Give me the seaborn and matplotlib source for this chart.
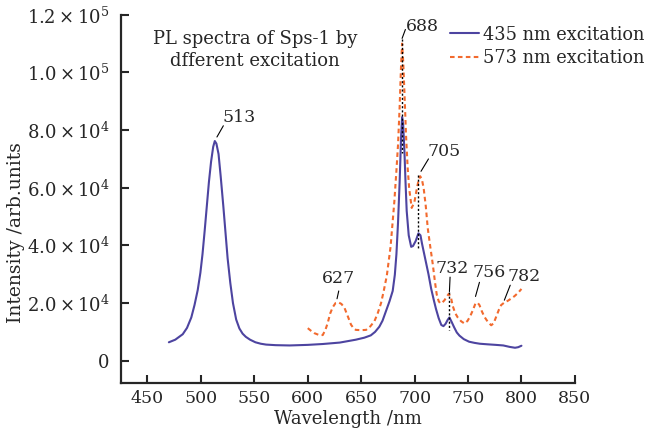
# PL spectra of Sps-1 bajo dos excitaciones distintas
import pandas as pd
import matplotlib.pyplot as plt
import matplotlib.ticker as mticker
import seaborn as sns

# -------------------------------------------------------------
# DATOS
# -------------------------------------------------------------

wl_435 = [470, 476, 483, 487, 491, 494, 497, 499.5, 501.5, 503.5, 505.5, 507.5,
          509.5, 511.5, 513, 514.5, 516.5, 518.5, 521, 523, 525, 527.5, 530,
          533, 536, 539, 542, 546, 551, 556, 561, 570, 583, 600, 614, 630, 645,
          653, 659, 663, 667, 670, 673, 676.5, 679.5, 681.5, 683, 684.5, 686,
          687.4, 688.3, 689.3, 690.5, 691.5, 692.6, 694.5, 696.8, 698.5, 701,
          703.6, 705.5, 707, 709, 711, 713, 715.5, 718, 720, 722.5, 725, 727,
          729, 731, 732.6, 734.5, 737, 739.5, 742, 746, 751, 756, 761, 768, 776,
          783, 789, 794, 797, 800]
int_435 = [6400, 7300, 9200, 11400, 15000, 19300, 24500, 30500, 37000, 45000,
           53500, 62000, 69000, 74200, 76200, 75300, 71700, 64000, 53500, 44500,
           35500, 27000, 20000, 14300, 11200, 9400, 8300, 7300, 6400, 5900, 5600,
           5400, 5300, 5500, 5800, 6300, 7300, 8000, 8800, 10000, 11800, 13900,
           17000, 20600, 24200, 29800, 37000, 48000, 62000, 78000, 84500, 82000,
           72500, 62000, 52000, 43500, 39500, 39800, 41500, 44200, 43500, 40500,
           37000, 33500, 30000, 25000, 21000, 18000, 14800, 12400, 12000, 12800,
           14200, 15000, 13600, 11600, 9800, 8700, 7500, 6600, 6200, 5900, 5700,
           5500, 5300, 4800, 4500, 4700, 5200]

wl_573 = [600, 603, 606, 610, 614, 616.5, 618.6, 621, 623.3, 626, 629, 631.5,
          634.3, 637.5, 640.5, 643, 645, 650, 654.6, 658.5, 662.4, 665.5, 668.6,
          671, 674, 677.5, 681, 683, 684.5, 686, 687.3, 688.3, 689.3, 690.5, 692,
          693.5, 695, 697.3, 699.8, 702, 703.8, 705.2, 706.8, 708.5, 710.5, 712.3,
          714.5, 717, 719, 720.7, 722.5, 724, 726, 728, 730, 732, 734, 735.7,
          738, 740.4, 743.5, 746.7, 749.5, 752, 754.5, 757, 759, 760.7, 763,
          765.4, 768.5, 771.7, 774, 776.4, 779, 781, 784, 787.3, 790.5, 793.5,
          797, 800]
int_573 = [11300, 10400, 9600, 9000, 8900, 10700, 13000, 16400, 18500, 20000,
           20200, 19700, 18400, 15400, 12500, 11200, 10700, 10600, 10700, 11900,
           13700, 16500, 20000, 24000, 29500, 39500, 55000, 66000, 75000, 88000,
           102000, 110000, 104000, 93000, 78000, 67000, 59500, 53000, 55000,
           59500, 62800, 64000, 63000, 59800, 53500, 46000, 40000, 33500, 27500,
           23000, 20700, 19900, 20200, 21000, 22200, 23200, 22000, 19000, 16500,
           15000, 13700, 12900, 13800, 15400, 17500, 19900, 20100, 19300, 17100,
           15200, 13500, 12300, 13000, 15300, 17800, 19300, 20200, 20800, 21600,
           22400, 23600, 24900]

etiquetas_picos = ["513", "688", "705", "732", "756", "782", "627"]

COLORES = {
    "435 nm excitation": "#4d44a0",
    "573 nm excitation": "#f26a2e",
}

# -------------------------------------------------------------
# ESTILO
# -------------------------------------------------------------

sns.set_style("ticks")
plt.rcParams["font.family"] = ["DejaVu Serif"]
plt.rcParams["mathtext.fontset"] = "dejavuserif"
plt.rcParams["axes.linewidth"] = 1.6

df = pd.concat([
    pd.DataFrame({"wl": wl_435, "I": int_435, "serie": "435 nm excitation"}),
    pd.DataFrame({"wl": wl_573, "I": int_573, "serie": "573 nm excitation"}),
])

fig, ax = plt.subplots(figsize=(6.6, 4.34), dpi=100)
fig.subplots_adjust(left=0.183, right=0.871, bottom=0.117, top=0.966)

sns.lineplot(data=df, x="wl", y="I", hue="serie", style="serie",
             palette=COLORES, dashes={"435 nm excitation": "",
                                      "573 nm excitation": (2.2, 1.6)},
             linewidth=1.5, ax=ax, sort=False, estimator=None)

ax.set_xlim(425, 850)
ax.set_ylim(-7800, 120000)
ax.set_xticks(range(450, 851, 50))
ax.set_yticks(range(0, 120001, 20000))


def formato_y(v, pos):
    if v == 0:
        return "0"
    exp = 5 if v >= 100000 else 4
    return r"$%.1f\times10^{%d}$" % (v / 10 ** exp, exp)


ax.yaxis.set_major_formatter(mticker.FuncFormatter(formato_y))
ax.tick_params(direction="in", length=6, width=1.5, labelsize=12.5, pad=5)
ax.tick_params(axis="y", labelsize=13, pad=8)
sns.despine(ax=ax)

ax.set_xlabel("Wavelength /nm", fontsize=13, labelpad=2)
ax.set_ylabel("Intensity /arb.units", fontsize=13.5)
ax.yaxis.set_label_coords(-0.21, 0.41)

ax.text(0.296, 0.904, "PL spectra of Sps-1 by\ndfferent excitation",
        transform=ax.transAxes, ha="center", va="center", fontsize=13,
        linespacing=1.3)

leg = ax.legend(loc="upper left", bbox_to_anchor=(0.71, 0.99), frameon=False,
                fontsize=12.8, handlelength=1.6, handletextpad=0.25,
                labelspacing=0.3, borderaxespad=0)

# -------------------------------------------------------------
# ANOTACIONES DE PICOS
# -------------------------------------------------------------

k = 0.8
punteado = (0, (1.5, 1.5))
# 513
ax.plot([515, 521], [77600, 81500], color="k", lw=k)
ax.text(520, 81300, etiquetas_picos[0], ha="left", va="bottom", fontsize=12.5)
# 688
ax.plot([688.3, 688.3], [111500, 72000], color="k", lw=1, ls=punteado)
ax.plot([688.3, 691.4], [111800, 114900], color="k", lw=k)
ax.text(692, 113000, etiquetas_picos[1], ha="left", va="bottom", fontsize=12.5)
# 705
ax.plot([703.6, 703.6], [64500, 39000], color="k", lw=1, ls=punteado)
ax.plot([706, 713], [65700, 70000], color="k", lw=k)
ax.text(712, 69500, etiquetas_picos[2], ha="left", va="bottom", fontsize=12.5)
# 732
ax.plot([732.6, 732.6], [24000, 10500], color="k", lw=1, ls=punteado)
ax.plot([732.6, 733.2], [24000, 29000], color="k", lw=k)
ax.text(735, 29000, etiquetas_picos[3], ha="center", va="bottom", fontsize=12.5)
# 756
ax.plot([757, 760.7], [22300, 27200], color="k", lw=k)
ax.text(754, 27500, etiquetas_picos[4], ha="left", va="bottom", fontsize=12.5)
# 782
ax.plot([784, 789.5], [21000, 26200], color="k", lw=k)
ax.text(787, 26200, etiquetas_picos[5], ha="left", va="bottom", fontsize=12.5)
# 627
ax.plot([627.4, 629], [21500, 24200], color="k", lw=k)
ax.text(629, 25500, etiquetas_picos[6], ha="center", va="bottom", fontsize=12.5)

plt.savefig("out.png", dpi=100)
plt.close()
